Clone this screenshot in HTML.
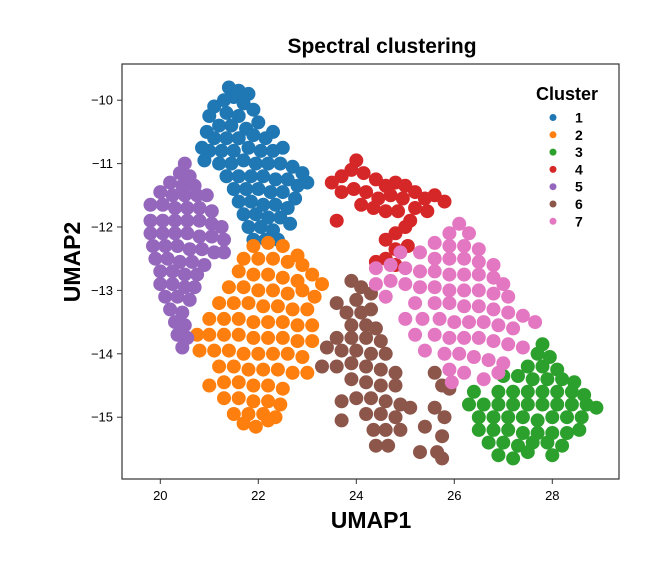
<!DOCTYPE html>
<html><head><meta charset="utf-8">
<style>
html,body{margin:0;padding:0;background:#fff;}
svg{display:block;font-family:"Liberation Sans",Arial,sans-serif;}
</style></head>
<body>
<svg id="chart" width="650" height="566" viewBox="0 0 650 566" xmlns="http://www.w3.org/2000/svg">
<text x="382" y="53" text-anchor="middle" font-size="21" font-weight="bold">Spectral clustering</text>
<g id="points"></g>
<rect x="122" y="64" width="497" height="415" fill="none" stroke="#333" stroke-width="1.2"/>
<g id="xticks"></g>
<g id="yticks"></g>
<text x="371" y="528" text-anchor="middle" font-size="23" font-weight="bold">UMAP1</text>
<text transform="translate(80,262) rotate(-90)" text-anchor="middle" font-size="23" font-weight="bold">UMAP2</text>
<g id="legend">
<text x="567" y="100" text-anchor="middle" font-size="18" font-weight="bold">Cluster</text>
</g>
</svg>
<script>
const clusterNames = ["1","2","3","4","5","6","7"];
const clusterColors = ["#1f77b4","#ff7f0e","#2ca02c","#d62728","#9467bd","#8c564b","#e377c2"];
const xTicks = [20,22,24,26,28];
const yTicks = [-10,-11,-12,-13,-14,-15];
const cluster1 = "21.4,-9.8 21.6,-9.85 21.5,-9.95 21.8,-9.9 21.3,-10.0 21.7,-10.05 21.1,-10.1 21.0,-10.25 21.35,-10.2 21.6,-10.25 21.9,-10.15 22.0,-10.35 21.2,-10.4 21.45,-10.4 21.75,-10.45 20.95,-10.5 21.1,-10.6 21.35,-10.6 21.6,-10.6 21.9,-10.55 22.15,-10.6 22.3,-10.5 20.85,-10.75 21.0,-10.8 21.25,-10.8 21.5,-10.8 21.8,-10.75 22.05,-10.8 22.3,-10.8 22.5,-10.75 20.9,-10.95 21.2,-11.0 21.45,-11.0 21.7,-10.95 21.95,-11.0 22.2,-11.0 22.45,-11.0 22.7,-11.05 22.9,-11.15 23.0,-11.3 21.35,-11.2 21.6,-11.2 21.85,-11.2 22.1,-11.2 22.35,-11.25 22.6,-11.25 22.8,-11.35 21.5,-11.4 21.75,-11.4 22.0,-11.4 22.25,-11.45 22.5,-11.45 22.75,-11.55 21.6,-11.6 21.85,-11.6 22.1,-11.65 22.35,-11.65 22.6,-11.7 21.7,-11.8 21.95,-11.8 22.2,-11.85 22.45,-11.85 22.65,-11.95 21.8,-12.0 22.05,-12.0 22.3,-12.05 21.9,-12.2 22.15,-12.2 22.4,-12.2";
const cluster2 = "21.9,-12.3 22.2,-12.25 22.5,-12.3 22.8,-12.45 21.7,-12.5 22.0,-12.5 22.3,-12.5 22.6,-12.55 22.9,-12.6 23.1,-12.75 23.3,-12.9 21.6,-12.7 21.9,-12.75 22.2,-12.75 22.5,-12.8 22.8,-12.85 21.4,-12.95 21.7,-12.95 22.0,-13.0 22.3,-13.0 22.6,-13.05 22.9,-13.0 23.15,-13.1 21.2,-13.2 21.5,-13.2 21.8,-13.2 22.1,-13.25 22.4,-13.25 22.7,-13.3 23.0,-13.3 21.0,-13.45 21.3,-13.45 21.6,-13.45 21.9,-13.5 22.2,-13.5 22.5,-13.5 22.8,-13.55 23.1,-13.55 20.75,-13.7 21.0,-13.7 21.3,-13.7 21.6,-13.7 21.9,-13.75 22.2,-13.75 22.5,-13.75 22.8,-13.8 23.1,-13.8 20.8,-13.95 21.1,-13.95 21.4,-13.95 21.7,-14.0 22.0,-14.0 22.3,-14.0 22.6,-14.0 22.9,-14.05 21.2,-14.2 21.5,-14.2 21.8,-14.25 22.1,-14.25 22.4,-14.25 22.7,-14.3 23.0,-14.3 21.0,-14.5 21.3,-14.45 21.6,-14.45 21.9,-14.5 22.2,-14.5 22.5,-14.55 21.3,-14.7 21.6,-14.7 21.9,-14.75 22.2,-14.75 22.45,-14.8 21.5,-14.95 21.8,-14.95 22.1,-14.95 22.35,-15.0 21.7,-15.1 21.95,-15.15 22.2,-15.05";
const cluster3 = "27.8,-13.85 27.7,-14.0 27.95,-14.05 27.5,-14.2 27.8,-14.2 28.1,-14.25 27.0,-14.35 27.3,-14.35 27.6,-14.4 27.9,-14.4 28.2,-14.4 28.45,-14.45 26.9,-14.6 27.2,-14.6 27.5,-14.6 27.8,-14.6 28.1,-14.6 28.4,-14.6 28.65,-14.65 26.4,-14.6 26.3,-14.8 26.6,-14.8 26.9,-14.8 27.2,-14.8 27.5,-14.8 27.8,-14.8 28.1,-14.8 28.4,-14.8 28.7,-14.8 28.9,-14.85 26.5,-15.0 26.8,-15.0 27.1,-15.0 27.4,-15.0 27.7,-15.05 28.0,-15.0 28.3,-15.0 28.6,-15.0 26.5,-15.2 26.8,-15.2 27.1,-15.2 27.4,-15.25 27.7,-15.25 28.0,-15.25 28.3,-15.25 28.55,-15.2 26.7,-15.4 27.0,-15.4 27.3,-15.45 27.6,-15.4 27.9,-15.4 28.2,-15.45 26.9,-15.6 27.2,-15.65 27.5,-15.55 28.0,-15.6";
const cluster4 = "23.5,-11.3 23.7,-11.2 23.9,-11.1 24.0,-10.95 24.15,-11.15 24.4,-11.25 24.6,-11.35 24.8,-11.3 25.0,-11.35 25.2,-11.45 25.4,-11.55 25.6,-11.5 25.8,-11.6 23.7,-11.45 23.95,-11.4 24.2,-11.45 24.45,-11.55 24.7,-11.5 24.95,-11.55 25.2,-11.7 25.45,-11.75 24.1,-11.65 24.35,-11.7 24.6,-11.75 24.85,-11.75 25.1,-11.9 25.0,-12.0 24.8,-12.1 24.6,-12.2 24.8,-12.35 25.05,-12.3 24.6,-12.5 24.8,-12.6 24.4,-12.55 23.6,-11.9";
const cluster5 = "20.5,-11.0 20.4,-11.15 20.6,-11.2 20.2,-11.3 20.45,-11.35 20.7,-11.35 20.0,-11.45 20.25,-11.5 20.5,-11.5 20.75,-11.5 20.95,-11.5 19.8,-11.65 20.05,-11.65 20.3,-11.7 20.55,-11.7 20.8,-11.7 21.05,-11.75 19.8,-11.9 20.05,-11.9 20.3,-11.9 20.55,-11.9 20.8,-11.9 21.05,-11.95 21.25,-12.0 19.8,-12.1 20.05,-12.1 20.3,-12.1 20.55,-12.1 20.8,-12.15 21.05,-12.15 21.3,-12.2 19.85,-12.3 20.1,-12.3 20.35,-12.3 20.6,-12.35 20.85,-12.35 21.1,-12.4 21.3,-12.4 19.9,-12.5 20.15,-12.5 20.4,-12.55 20.65,-12.55 20.9,-12.6 20.0,-12.7 20.25,-12.7 20.5,-12.75 20.75,-12.75 20.0,-12.9 20.25,-12.9 20.5,-12.95 20.7,-12.95 20.1,-13.1 20.35,-13.1 20.6,-13.15 20.2,-13.3 20.45,-13.35 20.3,-13.5 20.5,-13.55 20.35,-13.7 20.55,-13.75 20.45,-13.9";
const cluster6 = "23.9,-12.85 24.1,-12.95 24.3,-13.05 24.0,-13.15 23.6,-13.2 23.8,-13.35 24.1,-13.35 24.3,-13.3 23.9,-13.55 24.2,-13.55 24.4,-13.6 23.6,-13.75 23.9,-13.75 24.2,-13.75 24.5,-13.8 23.4,-13.9 23.7,-13.95 24.0,-13.95 24.3,-14.0 24.6,-14.0 23.3,-14.2 23.6,-14.2 23.9,-14.15 24.2,-14.2 24.5,-14.25 24.8,-14.3 23.9,-14.4 24.2,-14.45 24.5,-14.5 24.8,-14.5 24.0,-14.7 24.3,-14.7 24.6,-14.75 24.9,-14.8 24.2,-14.95 24.5,-14.95 24.8,-15.0 24.35,-15.2 24.6,-15.2 24.9,-15.2 24.4,-15.45 24.65,-15.45 23.7,-15.05 23.7,-14.75 25.6,-14.3 25.75,-14.5 25.9,-14.55 25.6,-14.85 25.8,-15.0 25.75,-15.3 25.65,-15.55 25.75,-15.65 25.3,-15.55 25.1,-14.85 25.4,-15.15";
const cluster7 = "26.1,-11.95 25.9,-12.1 26.3,-12.1 25.6,-12.25 25.9,-12.3 26.2,-12.3 26.5,-12.35 24.9,-12.4 25.3,-12.4 25.6,-12.5 25.9,-12.5 26.2,-12.5 26.5,-12.55 26.8,-12.6 24.4,-12.65 24.7,-12.6 25.0,-12.65 25.3,-12.7 25.6,-12.7 25.9,-12.75 26.2,-12.75 26.5,-12.75 26.8,-12.8 27.0,-12.9 24.4,-12.9 24.7,-12.85 25.0,-12.9 25.3,-12.95 25.6,-12.95 25.9,-13.0 26.2,-13.0 26.5,-13.0 26.8,-13.05 27.1,-13.1 24.6,-13.1 25.2,-13.2 25.6,-13.2 25.9,-13.2 26.2,-13.25 26.5,-13.25 26.8,-13.3 27.1,-13.35 27.4,-13.4 27.65,-13.5 25.0,-13.45 25.35,-13.45 25.7,-13.45 26.0,-13.5 26.3,-13.5 26.6,-13.5 26.9,-13.55 27.2,-13.6 25.2,-13.7 25.6,-13.7 25.9,-13.75 26.2,-13.75 26.5,-13.75 26.8,-13.8 27.1,-13.85 27.4,-13.9 25.4,-13.95 25.8,-14.0 26.1,-14.0 26.4,-14.05 26.7,-14.1 27.0,-14.15 25.9,-14.25 26.2,-14.3 26.6,-14.4 26.9,-14.3 25.95,-14.45";
const clusterPoints = [cluster1,cluster2,cluster3,cluster4,cluster5,cluster6,cluster7];

const NS = "http://www.w3.org/2000/svg";
function xScale(v){ return 160.3 + (v - 20) * 49.0; }
function yScale(v){ return 100.2 + (-10 - v) * 63.4; }

const pg = document.getElementById('points');
clusterPoints.forEach((str, ci) => {
  const g = document.createElementNS(NS, 'g');
  
  
  g.setAttribute('fill', clusterColors[ci]);
  str.trim().split(/\s+/).forEach(pair => {
    const [x, y] = pair.split(',').map(Number);
    const c = document.createElementNS(NS, 'circle');
    
    
    c.setAttribute('cx', xScale(x).toFixed(1));
    c.setAttribute('cy', yScale(y).toFixed(1));
    c.setAttribute('r', '7');
    g.appendChild(c);
  });
  pg.appendChild(g);
});

const xg = document.getElementById('xticks');
xTicks.forEach(t => {
  const px = xScale(t);
  const l = document.createElementNS(NS, 'line');
  
  
  l.setAttribute('x1', px); l.setAttribute('x2', px);
  l.setAttribute('y1', 479); l.setAttribute('y2', 484);
  l.setAttribute('stroke', '#333');
  xg.appendChild(l);
  const tx = document.createElementNS(NS, 'text');
  
  
  tx.setAttribute('x', px); tx.setAttribute('y', 500);
  tx.setAttribute('text-anchor', 'middle');
  tx.setAttribute('font-size', '13');
  tx.textContent = t;
  xg.appendChild(tx);
});
const yg = document.getElementById('yticks');
yTicks.forEach(t => {
  const py = yScale(t);
  const l = document.createElementNS(NS, 'line');
  
  
  l.setAttribute('x1', 117); l.setAttribute('x2', 122);
  l.setAttribute('y1', py); l.setAttribute('y2', py);
  l.setAttribute('stroke', '#333');
  yg.appendChild(l);
  const tx = document.createElementNS(NS, 'text');
  
  
  tx.setAttribute('x', 113); tx.setAttribute('y', py + 4.5);
  tx.setAttribute('text-anchor', 'end');
  tx.setAttribute('font-size', '13');
  tx.textContent = '\u2212' + Math.abs(t);
  yg.appendChild(tx);
});

const lg = document.getElementById('legend');
clusterNames.forEach((n, i) => {
  const y = 117.5 + i * 17.3;
  const e = document.createElementNS(NS, 'g');
  
  
  const c = document.createElementNS(NS, 'circle');
  
  
  c.setAttribute('cx', 553); c.setAttribute('cy', y); c.setAttribute('r', 3.5);
  c.setAttribute('fill', clusterColors[i]);
  e.appendChild(c);
  const t = document.createElementNS(NS, 'text');
  
  
  t.setAttribute('x', 575); t.setAttribute('y', y + 5);
  t.setAttribute('font-size', '14'); t.setAttribute('font-weight', 'bold');
  t.textContent = n;
  e.appendChild(t);
  lg.appendChild(e);
});
</script>
</body></html>
